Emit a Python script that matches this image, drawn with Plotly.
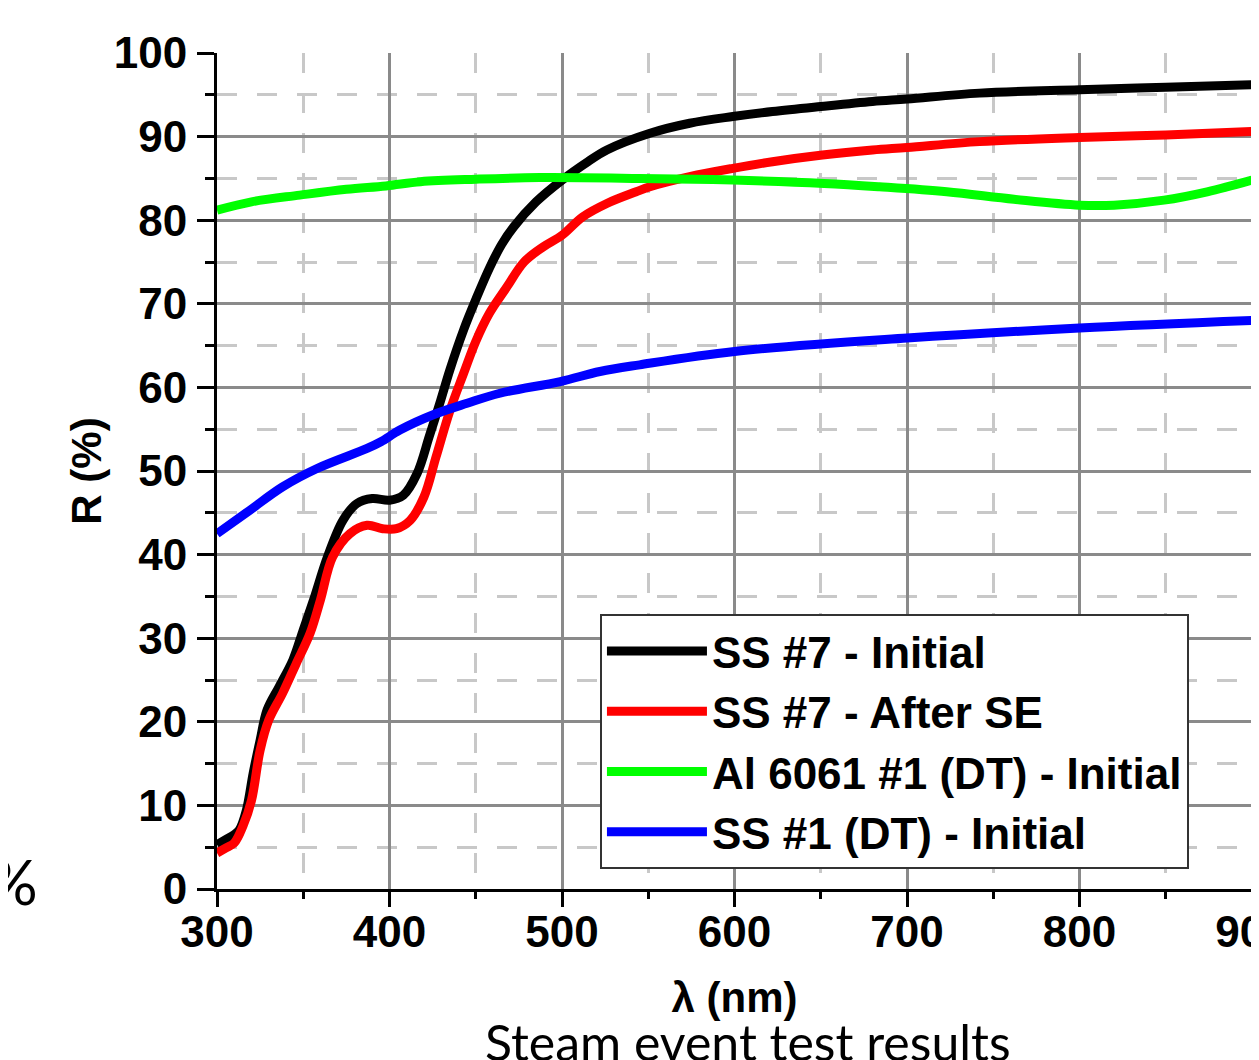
import plotly.graph_objects as go

# ---- data ----
wl_ss7_init = [300, 305, 310, 313, 317, 321, 325, 329, 336, 344, 350, 356, 364, 373, 381, 390,
               400, 408, 416, 423, 429, 435, 443, 450, 458, 465, 472, 485, 500, 515, 526, 551, 574,
               599, 622, 650, 680, 700, 742, 800, 850, 900]
r_ss7_init = [5.3, 5.9, 6.5, 7.1, 9.4, 13.9, 17.8, 21.4, 24.2, 27.4, 31.0, 34.6, 39.7, 44.1, 46.1, 46.7,
              46.5, 47.1, 49.7, 54.1, 58.0, 62.1, 66.9, 70.5, 74.3, 77.1, 79.2, 82.2, 84.8, 87.0, 88.4, 90.4, 91.6,
              92.4, 93.0, 93.6, 94.2, 94.5, 95.2, 95.6, 95.9, 96.2]

wl_ss7_after = [300, 305, 310, 315, 320, 325, 330, 338, 346, 354, 360, 367, 377, 387, 396, 404,
                412, 420, 427, 435, 443, 450, 458, 468, 478, 489, 500, 512, 526, 543, 551, 574,
                599, 622, 651, 680, 700, 742, 800, 850, 900]
r_ss7_after = [4.3, 4.9, 5.5, 7.5, 10.6, 16.6, 20.2, 23.4, 27.0, 30.6, 34.6, 39.7, 42.5, 43.5, 43.1, 43.1,
               44.1, 46.9, 51.7, 57.2, 61.7, 65.5, 68.9, 72.0, 75.0, 76.8, 78.2, 80.4, 82.0, 83.4, 84.0, 85.2,
               86.2, 87.0, 87.8, 88.4, 88.7, 89.4, 89.9, 90.2, 90.6]

wl_al6061 = [300, 320, 348, 375, 398, 418, 450, 487, 545, 599, 652, 684, 723, 762, 800, 820, 849, 874, 900]
r_al6061 = [81.2, 82.2, 83.0, 83.7, 84.1, 84.6, 84.9, 85.1, 85.0, 84.8, 84.4, 84.0, 83.4, 82.5, 81.8,
            81.8, 82.4, 83.4, 84.8]

wl_ss1 = [300, 319, 338, 358, 387, 395, 406, 425, 445, 464, 499, 522, 545, 600, 700, 800, 900]
r_ss1 = [42.5, 45.3, 48.1, 50.3, 52.7, 53.5, 54.9, 56.7, 58.1, 59.3, 60.7, 61.9, 62.7, 64.3, 65.9, 67.1, 68.0]

series_names = ["SS #7 - Initial", "SS #7 - After SE", "Al 6061 #1 (DT) - Initial", "SS #1 (DT) - Initial"]
series_colors = ["#000000", "#FF0000", "#00FF00", "#0000FF"]

x_ticks = [300, 400, 500, 600, 700, 800, 900]
y_ticks = [0, 10, 20, 30, 40, 50, 60, 70, 80, 90, 100]

# ---- figure ----
fig = go.Figure()
for wl, r, name, col in zip([wl_ss7_init, wl_ss7_after, wl_al6061, wl_ss1],
                            [r_ss7_init, r_ss7_after, r_al6061, r_ss1],
                            series_names, series_colors):
    fig.add_trace(go.Scatter(x=wl, y=r, mode="lines", name=name,
                             line=dict(color=col, width=9, shape="spline", smoothing=1.0)))

FONT = "Liberation Sans, Arial, sans-serif"
axis_common = dict(
    showline=True, linecolor="black", linewidth=3,
    ticks="outside", tickwidth=3, tickcolor="black",
    showgrid=True, gridcolor="#8a8a8a", gridwidth=3,
    zeroline=False, automargin=False,
    tickfont=dict(family=FONT, size=44, color="black", weight="bold"),
)

fig.update_xaxes(
    range=[300, 900], tickvals=x_ticks, ticklen=15, ticklabelstandoff=-13,
    ticklabeloverflow="allow",
    minor=dict(dtick=50, ticks="outside", ticklen=7, tickwidth=3, tickcolor="black",
               showgrid=True, gridcolor="#c8c8c8", gridwidth=3, griddash="20px,20px"),
    title=dict(text="λ (nm)", font=dict(family=FONT, size=42, color="black", weight="bold"), standoff=28),
    **axis_common,
)
fig.update_yaxes(
    range=[0, 100], tickvals=y_ticks, ticklen=17, ticklabelstandoff=1,
    ticklabeloverflow="allow",
    minor=dict(dtick=5, ticks="outside", ticklen=9, tickwidth=3, tickcolor="black",
               showgrid=True, gridcolor="#c8c8c8", gridwidth=3, griddash="20px,20px"),
    title=dict(text="R (%)", font=dict(family=FONT, size=42, color="black", weight="bold"), standoff=0),
    **axis_common,
)

# page body has an 8px margin: offsets below compensate so the plot box lands at x 217-1252, y 53-889
fig.update_layout(
    width=1259, height=1060,
    margin=dict(l=209, r=15, t=45, b=179),
    plot_bgcolor="white", paper_bgcolor="white",
    showlegend=True,
    legend=dict(
        x=0.370, y=0.329, xanchor="left", yanchor="top",
        bgcolor="white", bordercolor="#333333", borderwidth=2,
        font=dict(family=FONT, size=44, color="black", weight="bold"),
        itemwidth=100, tracegroupgap=0,
    ),
    annotations=[
        dict(text="Steam event test results", xref="paper", yref="paper",
             x=(748 - 217) / 1035, y=(889 - 1042) / 836, xanchor="center", yanchor="middle",
             showarrow=False, font=dict(family="Lato, Open Sans, sans-serif", size=50, color="black")),
        dict(text="%", xref="paper", yref="paper",
             x=(40 - 217) / 1035, y=(889 - 881) / 836, xanchor="right", yanchor="middle",
             showarrow=False, font=dict(family="Lato, Open Sans, sans-serif", size=62, color="black")),
    ],
)

fig.write_html("out.html")
